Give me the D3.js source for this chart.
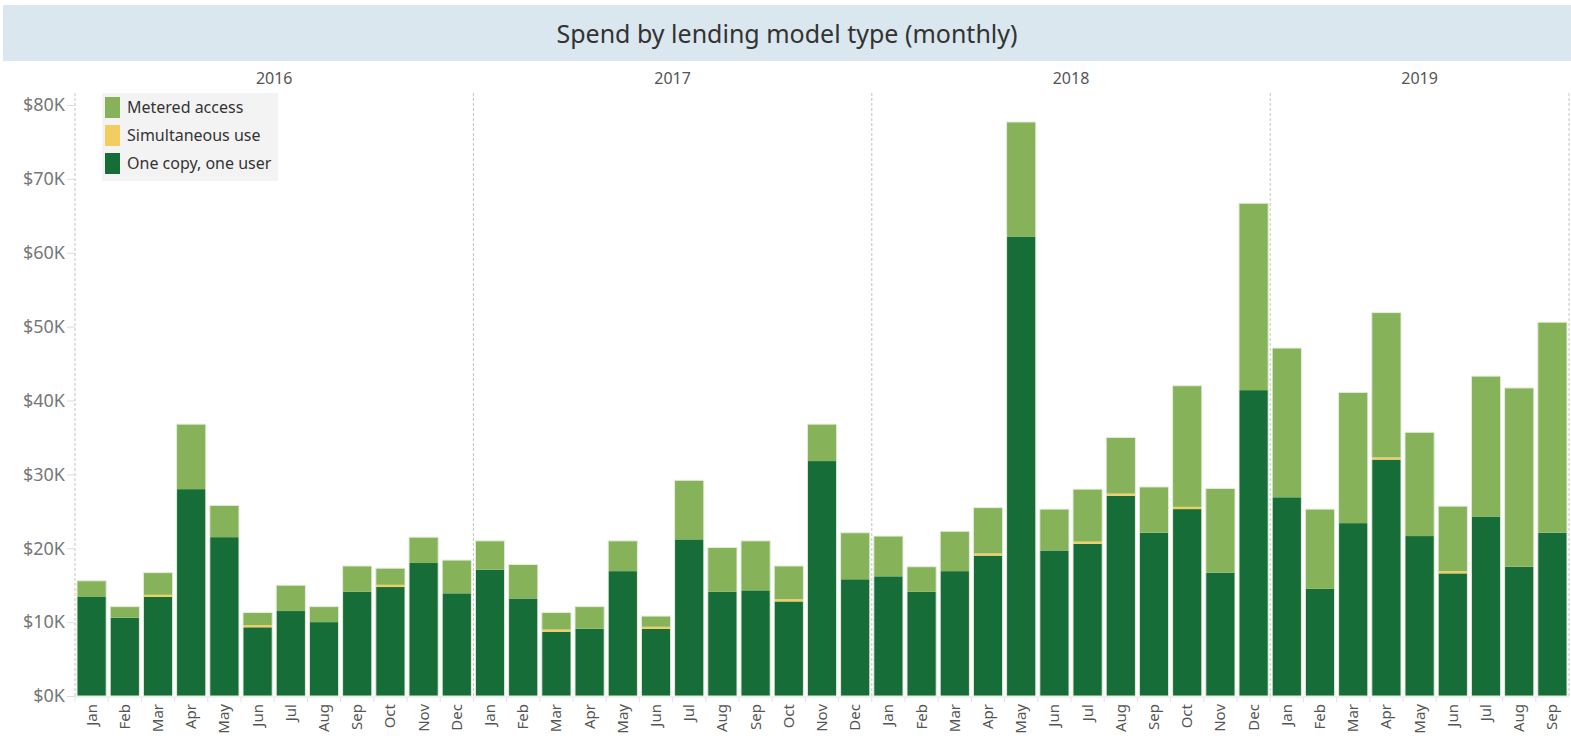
<!DOCTYPE html>
<html>
<head>
  <title>Spend by lending model type</title>
  <meta charset="utf-8">
  <script type="text/javascript" src="https://cdn.jsdelivr.net/npm/d3@7"></script>
  <style>
    body { margin: 0; background: #fff; }
    svg text { font-family: "Noto Sans", "Open Sans", sans-serif; }
  </style>
</head>

<body>
  <div id="chart"></div>
</body>

<script>
  // data, in thousands of dollars
  var years = ["2016", "2017", "2018", "2019"];
  var monthsPerYear = [12, 12, 12, 9];
  var monthNames = ["Jan","Feb","Mar","Apr","May","Jun","Jul","Aug","Sep","Oct","Nov","Dec"];
  var seriesNames = ["One copy, one user", "Simultaneous use", "Metered access"];
  var seriesColors = ["#176d37", "#f3cd5f", "#86b35a"];

  var oneCopy = [
    13.4, 10.6, 13.4, 28.0, 21.5, 9.3, 11.5, 10.0, 14.1, 14.75, 18.0, 13.9,
    17.1, 13.2, 8.7, 9.1, 16.9, 9.07, 21.2, 14.1, 14.3, 12.8, 31.8, 15.8,
    16.2, 14.1, 16.9, 19.0, 62.2, 19.7, 20.6, 27.1, 22.1, 25.3, 16.7, 41.4,
    26.9, 14.5, 23.4, 32.0, 21.65, 16.6, 24.3, 17.5, 22.1
  ];
  var simultaneous = [
    0, 0, 0.3, 0, 0, 0.3, 0, 0, 0, 0.3, 0, 0,
    0, 0, 0.3, 0, 0, 0.3, 0, 0, 0, 0.3, 0, 0,
    0, 0, 0, 0.3, 0, 0, 0.3, 0.3, 0, 0.3, 0, 0,
    0, 0, 0, 0.3, 0, 0.3, 0, 0, 0
  ];
  var metered = [
    2.2, 1.5, 3.0, 8.8, 4.3, 1.7, 3.5, 2.1, 3.5, 2.25, 3.5, 4.5,
    3.9, 4.6, 2.3, 3.0, 4.1, 1.45, 8.0, 6.0, 6.7, 4.5, 5.0, 6.3,
    5.45, 3.4, 5.4, 6.2, 15.5, 5.6, 7.1, 7.6, 6.2, 16.4, 11.4, 25.3,
    20.2, 10.8, 17.7, 19.6, 14.05, 8.8, 19.0, 24.2, 28.5
  ];

  var W = 1571, H = 750;
  var plotLeft = 75, plotRight = 1569, plotTop = 93, base = 696;

  // one row per month
  var rows = [];
  years.forEach(function(yr, i) {
    for (var m = 0; m < monthsPerYear[i]; m++) {
      var k = rows.length;
      rows.push({
        key: yr + "-" + m, year: yr, month: monthNames[m],
        s0: oneCopy[k], s1: simultaneous[k], s2: metered[k]
      });
    }
  });

  var svg = d3.select("#chart").append("svg")
    .attr("width", W).attr("height", H);

  // title band
  svg.append("rect")
    .attr("x", 3).attr("y", 5).attr("width", W - 3).attr("height", 56)
    .attr("fill", "#dae7ee");
  svg.append("text")
    .attr("x", 787).attr("y", 43)
    .attr("text-anchor", "middle")
    .attr("font-size", 25)
    .attr("fill", "#333")
    .text("Spend by lending model type (monthly)");

  var x = d3.scaleBand()
    .domain(rows.map(function(d) { return d.key; }))
    .range([plotLeft, plotRight])
    .paddingInner(0.12)
    .paddingOuter(0.06);

  var y = d3.scaleLinear()
    .domain([0, 80])
    .range([base, 105]);

  // year header labels and dashed dividers
  var step = x.step();
  var start = plotLeft;
  var dividers = [plotLeft];
  years.forEach(function(yr, i) {
    var end = start + monthsPerYear[i] * step;
    svg.append("text")
      .attr("x", (start + end) / 2).attr("y", 84)
      .attr("text-anchor", "middle")
      .attr("font-size", 16)
      .attr("fill", "#555")
      .text(yr);
    dividers.push(end);
    start = end;
  });
  svg.selectAll(".divider").data(dividers).enter().append("line")
    .attr("class", "divider")
    .attr("x1", function(d) { return d; }).attr("x2", function(d) { return d; })
    .attr("y1", plotTop).attr("y2", base + 1)
    .attr("stroke", "#c4c4c4")
    .attr("stroke-dasharray", "3,2");

  // Y axis
  var yAxis = svg.append("g")
    .attr("transform", "translate(" + plotLeft + ",0)")
    .call(d3.axisLeft(y)
      .tickValues(d3.range(0, 81, 10))
      .tickSize(8)
      .tickPadding(2)
      .tickFormat(function(d) { return "$" + d + "K"; }));
  yAxis.select(".domain").remove();
  yAxis.selectAll("line").attr("stroke", "#ddd");
  yAxis.selectAll("text")
    .attr("font-size", 18)
    .attr("fill", "#777")
    .style("font-family", "'Noto Sans', sans-serif");

  // stacked bars
  var stack = d3.stack().keys(["s0", "s1", "s2"])(rows);
  svg.append("g").selectAll("g").data(stack).enter().append("g")
    .attr("fill", function(d, i) { return seriesColors[i]; })
    .selectAll("rect").data(function(d) { return d; }).enter().append("rect")
    .attr("x", function(d) { return x(d.data.key); })
    .attr("width", x.bandwidth())
    .attr("y", function(d) { return y(d[1]); })
    .attr("height", function(d) { return y(d[0]) - y(d[1]); });

  // light outline around each bar
  svg.append("g").selectAll("rect").data(rows).enter().append("rect")
    .attr("x", function(d) { return x(d.key); })
    .attr("width", x.bandwidth())
    .attr("y", function(d) { return y(d.s0 + d.s1 + d.s2); })
    .attr("height", function(d) { return base - y(d.s0 + d.s1 + d.s2); })
    .attr("fill", "none")
    .attr("stroke", "#e4eddc")
    .attr("stroke-width", 1);

  // baseline and month separators
  svg.append("line")
    .attr("x1", plotLeft).attr("x2", plotRight)
    .attr("y1", base + 1).attr("y2", base + 1)
    .attr("stroke", "#e6e6e6");
  svg.selectAll(".sep").data(rows).enter().append("line")
    .attr("x1", function(d) { return x(d.key) - step * 0.06; })
    .attr("x2", function(d) { return x(d.key) - step * 0.06; })
    .attr("y1", base + 1).attr("y2", base + 6)
    .attr("stroke", "#e2e2e2");

  // month labels
  svg.selectAll(".month").data(rows).enter().append("text")
    .attr("transform", function(d) {
      return "translate(" + (x(d.key) + x.bandwidth() / 2 + 5) + "," + (base + 8) + ") rotate(-90)";
    })
    .attr("text-anchor", "end")
    .attr("font-size", 15)
    .attr("fill", "#555")
    .text(function(d) { return d.month; });

  // legend
  var legendOrder = [2, 1, 0];
  svg.append("rect")
    .attr("x", 102).attr("y", 93).attr("width", 176).attr("height", 88)
    .attr("fill", "#f3f3f3");
  var lg = svg.append("g").selectAll("g").data(legendOrder).enter().append("g")
    .attr("transform", function(d, i) { return "translate(105," + (97 + i * 28) + ")"; });
  lg.append("rect")
    .attr("width", 15).attr("height", 21)
    .attr("fill", function(d) { return seriesColors[d]; });
  lg.append("text")
    .attr("x", 22).attr("y", 16)
    .attr("font-size", 16)
    .attr("fill", "#333")
    .text(function(d) { return seriesNames[d]; });
</script>
</html>
